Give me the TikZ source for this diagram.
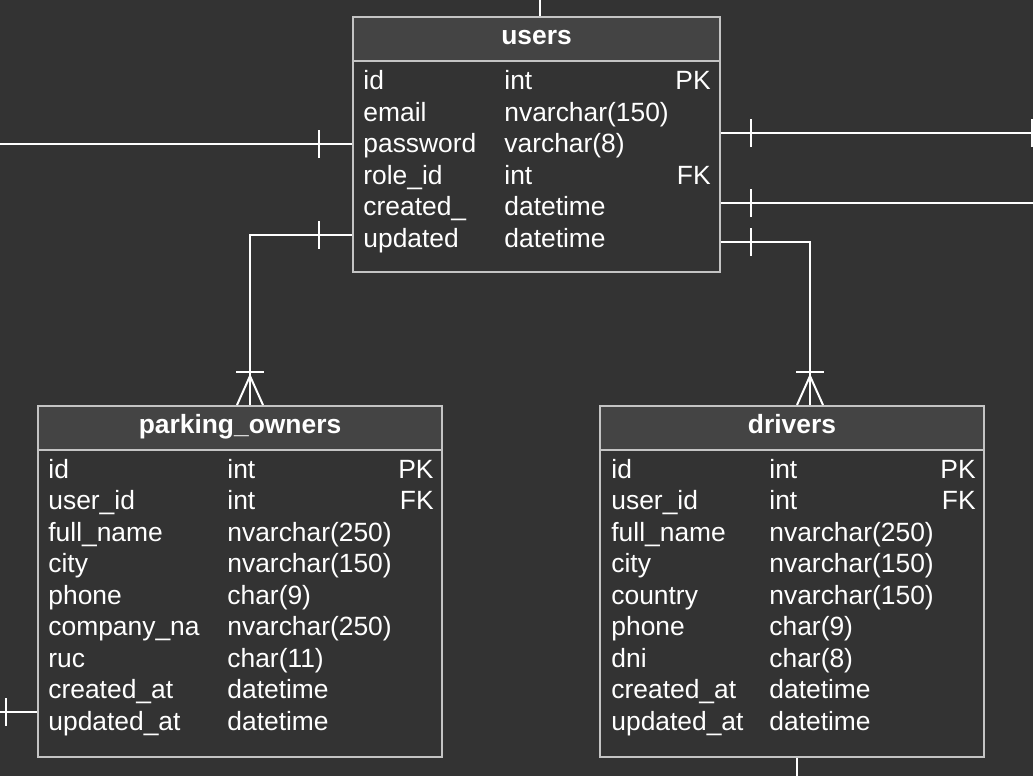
\documentclass[tikz,border=0pt]{standalone}
\usepackage{fontspec}
\setmainfont{Liberation Sans}
\usetikzlibrary{decorations.markings}
\definecolor{BgDark}{HTML}{333333}
\definecolor{HeadGray}{HTML}{444444}
\definecolor{Border}{HTML}{C4C4C4}

\begin{document}
\begin{tikzpicture}[
  x=0.5pt, y=-0.5pt,
  table/.style={rectangle, draw=Border, line width=1pt, fill=BgDark, anchor=north west, inner sep=0pt},
  head/.style={rectangle, draw=Border, line width=1pt, fill=HeadGray, anchor=north west, minimum height=22pt, inner sep=0pt, text=white, font=\fontsize{13.2}{16}\selectfont\bfseries, text height=9pt, text depth=4pt},
  field/.style={text=white, font=\fontsize{13.2}{16}\selectfont, inner sep=0pt},
  link/.style={draw=white, line width=1pt},
  bar at/.style={postaction={decorate, decoration={markings, mark=at position #1 with {\draw[link] (0,-7pt) -- (0,7pt);}}}},
  crow/.style={postaction={decorate, decoration={markings,
    mark=at position -16.5pt with {\draw[link] (0,-7pt) -- (0,7pt);},
    mark=at position -14.5pt with {\draw[link] (0,0) -- (14.5pt,6.5pt) (0,0) -- (14.5pt,-6.5pt);}}}}
]
\fill[BgDark] (0,0) rectangle (1033,776);
\useasboundingbox (0,0) rectangle (1033,776);

% users
\node[table, minimum width=183.5pt, minimum height=127.5pt] (users) at (352,16) {};
\node[head, minimum width=183.5pt] (users-head) at (352,16) {users};
\foreach \n/\t [count=\i] in {id/int, email/nvarchar(150), password/varchar(8), role\_id/int, created\_/datetime, updated/datetime} {
  \node[field, anchor=base west] (users-n\i) at (363, {89.5+31.5*(\i-1)}) {\n};
  \node[field, anchor=base west] (users-t\i) at (504, {89.5+31.5*(\i-1)}) {\t};
}
\node[field, anchor=base east] (users-pk) at (711,89.5) {PK};
\node[field, anchor=base east] (users-fk) at (711,184) {FK};

% parking_owners
\node[table, minimum width=202pt, minimum height=175.5pt] (owners) at (37,405) {};
\node[head, minimum width=202pt] (owners-head) at (37,405) {parking\_owners};
\foreach \n/\t [count=\i] in {id/int, user\_id/int, full\_name/nvarchar(250), city/nvarchar(150), phone/char(9), company\_na/nvarchar(250), ruc/char(11), created\_at/datetime, updated\_at/datetime} {
  \node[field, anchor=base west] (owners-n\i) at (48, {478+31.5*(\i-1)}) {\n};
  \node[field, anchor=base west] (owners-t\i) at (227, {478+31.5*(\i-1)}) {\t};
}
\node[field, anchor=base east] (owners-pk) at (434,478) {PK};
\node[field, anchor=base east] (owners-fk) at (434,509.5) {FK};

% drivers
\node[table, minimum width=192pt, minimum height=175.5pt] (drivers) at (599,405) {};
\node[head, minimum width=192pt] (drivers-head) at (599,405) {drivers};
\foreach \n/\t [count=\i] in {id/int, user\_id/int, full\_name/nvarchar(250), city/nvarchar(150), country/nvarchar(150), phone/char(9), dni/char(8), created\_at/datetime, updated\_at/datetime} {
  \node[field, anchor=base west] (drivers-n\i) at (611, {478+31.5*(\i-1)}) {\n};
  \node[field, anchor=base west] (drivers-t\i) at (769, {478+31.5*(\i-1)}) {\t};
}
\node[field, anchor=base east] (drivers-pk) at (976,478) {PK};
\node[field, anchor=base east] (drivers-fk) at (976,509.5) {FK};

% free ends
\coordinate (roles) at (540,-30);
\coordinate (west-top) at (-40,144);
\coordinate (east-a) at (1065,133);
\coordinate (east-b) at (1070,203);
\coordinate (west-low) at (-40,712);
\coordinate (south) at (797,810);
\coordinate (bend-owners) at (250,235);
\coordinate (bend-drivers) at (810,242);

% relations
\draw[link] (roles) -- (roles |- users.north);
\draw[link, bar at=-16.5pt] (west-top) -- (west-top -| users.west);
\draw[link, bar at=15pt, postaction={decorate, decoration={markings, mark=at position -16.5pt with {\draw[link] (0,-7pt) -- (0,7pt);}}}] (east-a -| users.east) -- (east-a);
\draw[link, bar at=15pt] (east-b -| users.east) -- (east-b);
\draw[link, bar at=16.5pt, crow] (bend-owners -| users.west) -- (bend-owners) -- (bend-owners |- owners.north);
\draw[link, bar at=15pt, crow] (bend-drivers -| users.east) -- (bend-drivers) -- (bend-drivers |- drivers.north);
\draw[link, bar at=15.5pt] (west-low -| owners.west) -- (west-low);
\draw[link] (south |- drivers.south) -- (south);
\end{tikzpicture}
\end{document}
